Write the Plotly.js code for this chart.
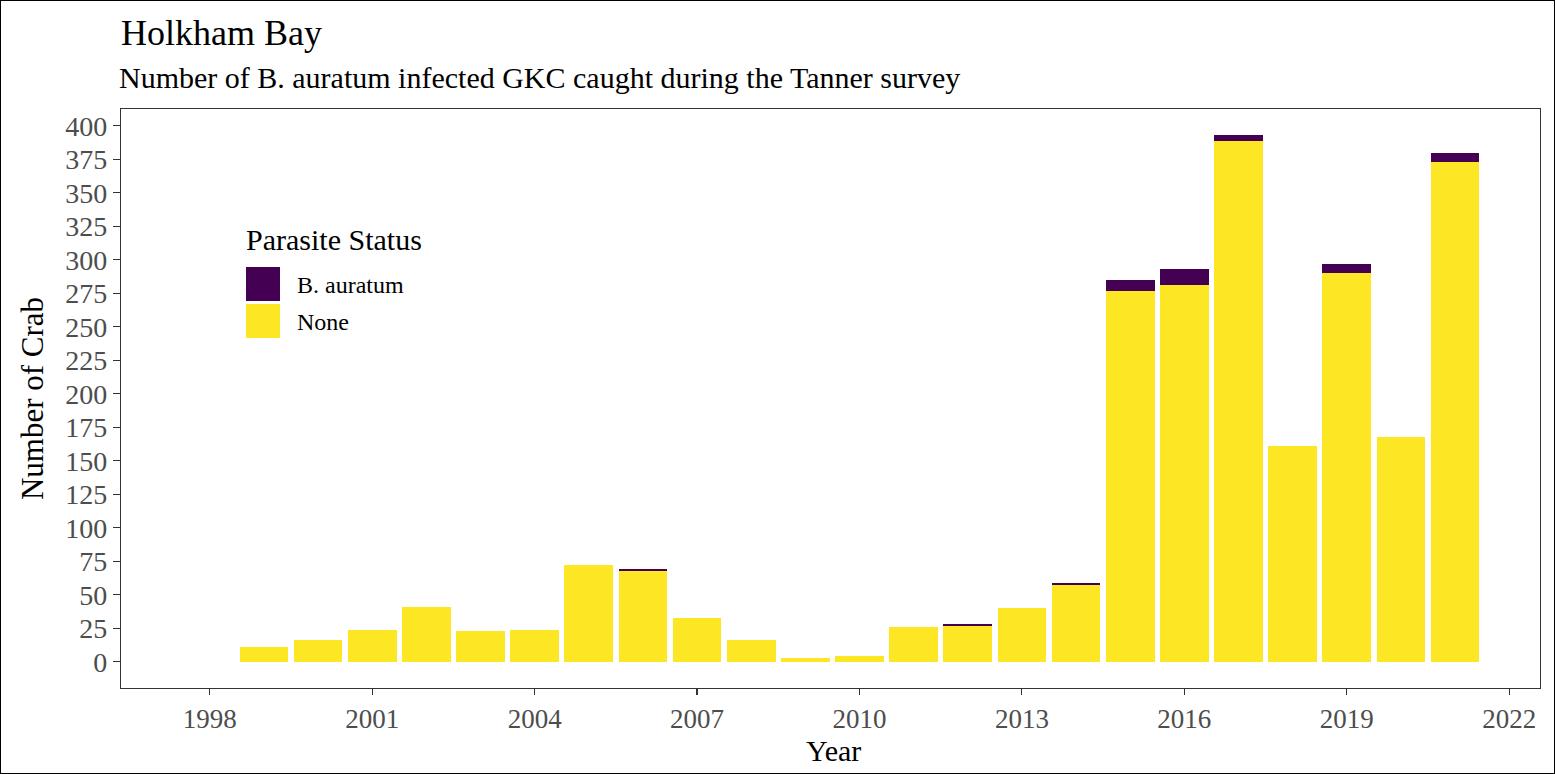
<!DOCTYPE html>
<html>
<head>
<meta charset="utf-8">
<script src="https://cdn.plot.ly/plotly-3.0.1.min.js"></script>
<style>
html,body{margin:0;padding:0;background:#fff;}
#wrap{position:relative;width:1555px;height:774px;}
#chart{width:1555px;height:774px;}
#frame{position:absolute;left:0;top:0;width:1553px;height:772px;border:1px solid #000;pointer-events:none;}
</style>
</head>
<body>
<div id="wrap"><div id="chart"></div><div id="frame"></div></div>
<script>
const years = [1999,2000,2001,2002,2003,2004,2005,2006,2007,2008,2009,2010,2011,2012,2013,2014,2015,2016,2017,2018,2019,2020,2021];
const noneCounts = [11,16,24,41,23,24,72,68,33,16,3,4,26,27,40,57,277,281,389,161,290,168,373];
const infectedCounts = [0,0,0,0,0,0,0,1,0,0,0,0,0,1,0,2,8,12,4,0,7,0,7];
const xTicks = [1998,2001,2004,2007,2010,2013,2016,2019,2022];
const yTicks = [0,25,50,75,100,125,150,175,200,225,250,275,300,325,350,375,400];
const legendLabels = ["B. auratum","None"];
const colors = {"B. auratum":"#440154","None":"#FDE725"};

const serif = "Liberation Serif, Times New Roman, serif";

const traces = [
  {type:"bar", name:"None", x:years, y:noneCounts, width:0.9,
   marker:{color:colors["None"], line:{width:0}}, showlegend:false},
  {type:"bar", name:"B. auratum", x:years, y:infectedCounts, width:0.9,
   marker:{color:colors["B. auratum"], line:{width:0}}, showlegend:false}
];

// custom legend (paper coordinates relative to plot area)
const L = 121, R = 1540, T = 109, B = 688;
const pw = R - L, ph = B - T;
function px(x){return (x - L)/pw;}
function py(y){return (B - y)/ph;}
const shapes = [];
const annotations = [];
annotations.push({xref:"paper",yref:"paper",x:px(244),y:py(239),xanchor:"left",yanchor:"middle",
  text:"Parasite Status",showarrow:false,font:{family:serif,size:30,color:"#000"}});
legendLabels.forEach((lab,i)=>{
  const top = 267 + i*37;
  shapes.push({type:"rect",xref:"paper",yref:"paper",x0:px(246),x1:px(280),y0:py(top+34),y1:py(top),
    fillcolor:colors[lab],line:{width:0}});
  annotations.push({xref:"paper",yref:"paper",x:px(295),y:py(top+18),xanchor:"left",yanchor:"middle",
    text:lab,showarrow:false,font:{family:serif,size:24,color:"#000"}});
});
// subtitle
annotations.push({xref:"paper",yref:"paper",x:px(117),y:py(78),xanchor:"left",yanchor:"middle",
  text:"Number of B. auratum infected GKC caught during the Tanner survey",showarrow:false,
  font:{family:serif,size:30,color:"#000"}});
// x axis title
annotations.push({xref:"paper",yref:"paper",x:px(834),y:py(750),xanchor:"center",yanchor:"middle",
  text:"Year",showarrow:false,font:{family:serif,size:30,color:"#000"}});

const layout = {
  width:1555, height:774,
  margin:{l:121, r:15, t:109, b:86},
  paper_bgcolor:"#fff", plot_bgcolor:"#fff",
  barmode:"stack", bargap:0,
  title:{text:"Holkham Bay", x:0, xanchor:"left", xref:"paper", y:1-32/774, yanchor:"middle",
    font:{family:serif,size:36,color:"#000"}},
  xaxis:{range:[1996.36,2022.57], tickvals:xTicks, ticktext:xTicks.map(String),
    ticks:"outside", ticklen:6, tickcolor:"#333", tickwidth:1.2,
    showline:true, mirror:true, linecolor:"#333", linewidth:1.2,
    showgrid:false, zeroline:false,
    tickfont:{family:serif,size:27,color:"#4d4d4d"}},
  yaxis:{range:[-19.6,412.6], tickvals:yTicks, ticktext:yTicks.map(String),
    ticks:"outside", ticklen:7, tickcolor:"#333", tickwidth:1.2,
    showline:true, mirror:true, linecolor:"#333", linewidth:1.2,
    showgrid:false, zeroline:false,
    tickfont:{family:serif,size:28,color:"#4d4d4d"},
    title:{text:"Number of Crab", font:{family:serif,size:31,color:"#000"}, standoff:12}},
  shapes:shapes,
  annotations:annotations,
  showlegend:false
};

Plotly.newPlot("chart", traces, layout, {displayModeBar:false, staticPlot:true});
</script>
</body>
</html>
